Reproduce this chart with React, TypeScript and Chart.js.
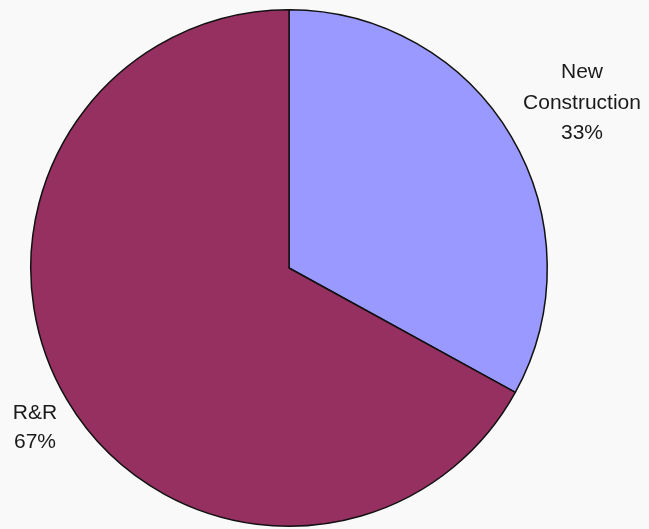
import React, { useEffect, useRef } from "react";
import { Chart, registerables } from "chart.js";

Chart.register(...registerables);

const categories = ["New Construction", "R&R"];
const shares = [33, 67];
const sliceColors = ["#9999FF", "#953060"];
const labelLines = [["New", "Construction", "33%"], ["R&R", "67%"]];

const labelPlugin = {
  id: "outerLabels",
  afterDraw(chart: any) {
    const ctx = chart.ctx;
    ctx.save();
    ctx.font = '21px "Liberation Sans", Arial, sans-serif';
    ctx.fillStyle = "#1a1a1a";
    ctx.textAlign = "center";
    ctx.textBaseline = "alphabetic";
    const anchors = [
      { x: 582, y: 78, step: 30.5 },
      { x: 35, y: 418.5, step: 29 },
    ];
    labelLines.forEach((lines, i) => {
      const a = anchors[i];
      lines.forEach((t, j) => ctx.fillText(t, a.x, a.y + j * a.step));
    });
    ctx.restore();
  },
};

export default function App() {
  const ref = useRef<HTMLCanvasElement | null>(null);
  useEffect(() => {
    if (!ref.current) return;
    const chart = new Chart(ref.current, {
      type: "pie",
      data: {
        labels: categories,
        datasets: [
          {
            data: shares,
            backgroundColor: sliceColors,
            borderColor: "#111111",
            borderWidth: 1.5,
          },
        ],
      },
      options: {
        responsive: false,
        animation: false,
        layout: { padding: { left: 30, right: 101, top: 9, bottom: 2 } },
        plugins: {
          legend: { display: false },
          tooltip: { enabled: false },
        },
      },
      plugins: [labelPlugin],
    });
    return () => chart.destroy();
  }, []);
  return (
    <div
      style={{
        position: "absolute",
        left: 0,
        top: 0,
        width: 649,
        height: 529,
        background: "#f9f9f9",
      }}
    >
      <canvas ref={ref} width={649} height={529} style={{ display: "block" }} />
    </div>
  );
}
